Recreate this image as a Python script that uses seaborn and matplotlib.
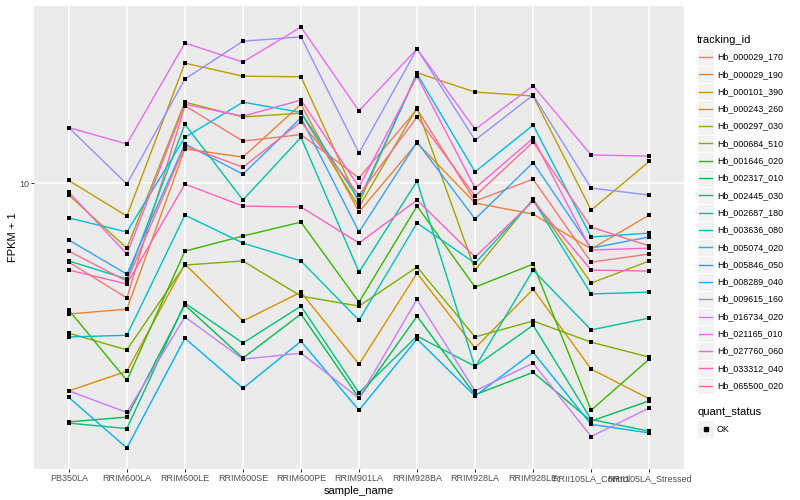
import numpy as np
import pandas as pd
import seaborn as sns
import matplotlib.pyplot as plt
from matplotlib.lines import Line2D
from matplotlib.patches import Rectangle
from matplotlib.ticker import NullLocator

samples = ['PB350LA', 'RRIM600LA', 'RRIM600LE', 'RRIM600SE', 'RRIM600PE', 'RRIM901LA',
           'RRIM928BA', 'RRIM928LA', 'RRIM928LE', 'RRII105LA_Control', 'RRII105LA_Stressed']

genes = ['Hb_000029_170', 'Hb_000029_190', 'Hb_000101_390', 'Hb_000243_260', 'Hb_000297_030',
         'Hb_000684_510', 'Hb_001646_020', 'Hb_002317_010', 'Hb_002445_030', 'Hb_002687_180',
         'Hb_003636_080', 'Hb_005074_020', 'Hb_005846_050', 'Hb_008289_040', 'Hb_009615_160',
         'Hb_016734_020', 'Hb_021165_010', 'Hb_027760_060', 'Hb_033312_040', 'Hb_065500_020']

colors = ['#F8766D', '#EA8331', '#D89000', '#C09B00', '#A3A500', '#7CAE00', '#39B600',
          '#00BB4E', '#00BF7D', '#00C1A3', '#00BFC4', '#00BAE0', '#00B0F6', '#35A2FF',
          '#9590FF', '#C77CFF', '#E76BF3', '#FA62DB', '#FF62BC', '#FF6C91']

# FPKM + 1, one list per gene, in sample order
hb_000029_170 = [5.45, 4.14, 18.1, 13.8, 14.5, 10.4, 17.6, 8.71, 10.3, 5.45, 5.80]
hb_000029_190 = [3.66, 3.80, 13.0, 12.2, 18.3, 8.01, 13.6, 8.58, 7.88, 6.03, 7.82]
hb_000101_390 = [2.03, 2.36, 5.37, 3.47, 4.33, 2.49, 5.01, 2.82, 4.43, 2.40, 1.91]
hb_000243_260 = [10.2, 7.76, 25.1, 22.7, 22.6, 8.58, 23.3, 20.1, 19.5, 8.13, 11.8]
hb_000297_030 = [9.12, 6.07, 18.6, 16.6, 17.1, 8.32, 17.8, 5.13, 8.85, 4.64, 5.50]
hb_000684_510 = [3.16, 2.78, 5.33, 5.50, 4.20, 3.89, 5.25, 3.07, 3.47, 2.95, 2.63]
hb_001646_020 = [3.77, 2.20, 5.93, 6.66, 7.41, 4.01, 8.38, 4.50, 5.37, 1.75, 2.59]
hb_002317_010 = [1.60, 1.66, 3.92, 2.61, 3.66, 1.92, 3.60, 1.97, 2.34, 1.61, 1.88]
hb_002445_030 = [1.585, 1.52, 3.98, 2.93, 3.89, 2.00, 3.09, 2.45, 3.36, 1.63, 1.49]
hb_002687_180 = [5.50, 4.79, 15.7, 8.78, 14.2, 5.05, 10.15, 2.43, 5.13, 3.24, 3.55]
hb_003636_080 = [3.07, 3.11, 7.82, 6.31, 5.50, 3.49, 7.36, 5.41, 8.78, 4.27, 4.33]
hb_005074_020 = [7.65, 6.87, 14.2, 18.6, 17.2, 8.78, 23.1, 10.9, 15.6, 6.61, 6.81]
hb_005846_050 = [1.93, 1.31, 3.04, 2.07, 2.97, 1.75, 3.02, 1.95, 2.73, 1.57, 1.47]
hb_008289_040 = [6.46, 4.97, 13.5, 10.7, 16.5, 6.87, 13.7, 7.59, 11.7, 6.07, 6.61]
hb_009615_160 = [15.3, 9.92, 22.2, 29.7, 30.7, 12.6, 28.0, 13.9, 19.65, 9.62, 9.12]
hb_016734_020 = [2.03, 1.72, 3.58, 2.59, 2.71, 1.92, 4.10, 2.03, 2.51, 1.43, 1.78]
hb_021165_010 = [15.3, 13.5, 29.3, 25.3, 33.1, 17.4, 28.0, 15.1, 21.1, 12.4, 12.3]
hb_027760_060 = [9.33, 5.80, 18.3, 16.7, 18.9, 9.70, 22.7, 9.62, 14.1, 5.98, 6.07]
hb_033312_040 = [5.13, 4.61, 9.92, 8.38, 8.32, 6.31, 8.78, 5.67, 8.71, 5.13, 5.09]
hb_065500_020 = [5.93, 4.71, 13.3, 11.3, 16.0, 9.12, 16.6, 9.05, 13.7, 7.13, 6.17]

fpkm = [hb_000029_170, hb_000029_190, hb_000101_390, hb_000243_260, hb_000297_030,
        hb_000684_510, hb_001646_020, hb_002317_010, hb_002445_030, hb_002687_180,
        hb_003636_080, hb_005074_020, hb_005846_050, hb_008289_040, hb_009615_160,
        hb_016734_020, hb_021165_010, hb_027760_060, hb_033312_040, hb_065500_020]

rows = []
for g, vals in zip(genes, fpkm):
    for i, v in enumerate(vals):
        rows.append({'tracking_id': g, 'pos': i, 'sample_name': samples[i],
                     'FPKM + 1': v, 'quant_status': 'OK'})
df = pd.DataFrame(rows)

plt.rcParams['font.family'] = ['Liberation Sans', 'DejaVu Sans']

W, H = 800, 500
fig = plt.figure(figsize=(8, 5), dpi=100)
ax = fig.add_axes([34 / W, 1 - 469 / H, 650 / W, 463 / H])
ax.set_facecolor('#EBEBEB')

sns.lineplot(data=df, x='pos', y='FPKM + 1', hue='tracking_id', palette=colors,
             sort=False, estimator=None, lw=1.0, ax=ax, legend=False, zorder=2)
sns.scatterplot(data=df, x='pos', y='FPKM + 1', color='black', marker='s', s=11,
                linewidth=0, ax=ax, legend=False, zorder=3)

ax.set_yscale('log')
lo = np.log10(df['FPKM + 1'].min())
hi = np.log10(df['FPKM + 1'].max())
pad = (hi - lo) * 0.05
ax.set_ylim(10 ** (lo - pad), 10 ** (hi + pad))
ax.set_xlim(-0.6, len(samples) - 0.4)
ax.set_xticks(range(len(samples)))
ax.set_xticklabels(samples)
ax.set_yticks([10])
ax.set_yticklabels(['10'])
ax.yaxis.set_minor_locator(NullLocator())
ax.grid(True, color='white', lw=1.1, zorder=0)
ax.set_axisbelow(True)
for sp in ax.spines.values():
    sp.set_visible(False)
ax.tick_params(axis='both', length=2.2, width=0.8, color='#333333',
               labelcolor='#4D4D4D', labelsize=6.5, pad=1.5)
ax.set_xlabel('sample_name', fontsize=8, color='black', labelpad=2)
ax.set_ylabel('FPKM + 1', fontsize=8, color='black')
ax.yaxis.set_label_coords(-0.024, 0.5)

# legend drawn in ggplot style
def fx(px):
    return px / W

def fy(py):
    return 1 - py / H

fig.text(fx(697), fy(40), 'tracking_id', fontsize=8, va='center', ha='left')
step = 17.3
for i, (g, c) in enumerate(zip(genes, colors)):
    yc = 57 + step * i
    fig.add_artist(Rectangle((fx(697), fy(yc + step / 2)), 17 / W, step / H,
                             facecolor='#F2F2F2', edgecolor='white', lw=0.8,
                             transform=fig.transFigure))
    fig.add_artist(Line2D([fx(699), fx(712)], [fy(yc), fy(yc)], color=c, lw=1.0,
                          transform=fig.transFigure))
    fig.text(fx(717), fy(yc), g, fontsize=6.4, va='center', ha='left')

fig.text(fx(697), fy(412), 'quant_status', fontsize=8, va='center', ha='left')
fig.add_artist(Rectangle((fx(697), fy(429 + step / 2)), 17 / W, step / H,
                         facecolor='#F2F2F2', edgecolor='white', lw=0.8,
                         transform=fig.transFigure))
fig.add_artist(Line2D([fx(705.5)], [fy(429)], marker='s', markersize=3, color='black',
                      linestyle='none', transform=fig.transFigure))
fig.text(fx(717), fy(429), 'OK', fontsize=6.4, va='center', ha='left')

fig.savefig('out.png', dpi=100)
